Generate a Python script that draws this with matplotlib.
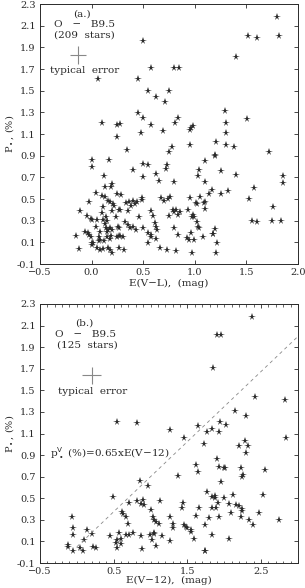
import matplotlib
matplotlib.use('Agg')
import matplotlib.pyplot as plt
import numpy as np

# panel (a): E(V-L) vs P*, 209 stars
a_x = [1.80, 1.52, 1.60, 1.82, 0.50, 1.40, 0.58, 0.80, 0.85, 0.06, 0.45, 0.55, 0.75,
       0.62, 0.71, 1.29, 0.10, 0.45, 0.50, 0.25, 0.28, 0.84, 0.81, 0.58, 0.69, 0.48,
       0.96, 0.98, 0.95, 1.30, 1.30, 1.51, 0.25, 0.78, 0.95, 1.21, 1.30, 1.38, 0.34,
       0.00, 0.00, 0.17, 0.40, 0.12, 0.20, 0.19, 0.13, 0.04, 0.25, 0.29, 0.10, 0.13,
       -0.02, 0.16, 0.18, 0.21, 0.22, 0.11, 0.33, 0.36, 0.40, 0.42, 0.38, 0.44, -0.11,
       0.27, 0.28, 0.35, 0.20, 0.10, -0.04, -0.01, 0.00, 0.05, 0.11, 0.14, 0.15, 0.24,
       0.32, 0.13, 0.14, 0.16, 0.15, 0.18, 0.20, 0.04, 0.26, 0.27, 0.35, 0.37, 0.40,
       0.43, 0.08, -0.06, -0.03, -0.15, -0.02, -0.01, 0.07, 0.08, 0.15, 0.18, 0.19,
       0.25, 0.27, 0.28, 0.30, 0.12, 0.00, 0.00, 0.01, 0.07, -0.12, 0.05, 0.08, 0.11,
       0.16, 0.18, 0.20, 0.27, 0.31,
       0.75, 1.20, 1.20, 0.50, 0.55, 1.10, 0.73, 0.72, 1.04, 0.62, 1.25, 0.50, 1.03,
       0.65, 0.80, 1.10, 1.17, 1.14, 1.25, 1.32, 0.49, 0.49, 0.67, 0.70, 0.74, 0.76,
       0.95, 1.05, 1.10, 1.09, 1.02, 1.01, 1.10, 0.46, 0.58, 0.60, 0.79, 0.82, 0.80,
       0.86, 0.93, 0.98, 0.99, 0.97, 0.75, 0.84, 0.50, 0.61, 0.62, 0.63, 0.80, 0.55,
       0.58, 0.58, 0.62, 0.55, 0.84, 0.96, 0.92, 0.94, 0.99, 1.02, 1.03, 1.04, 1.08,
       1.20, 1.18, 1.18, 1.22, 0.66, 0.73, 0.82, 0.97, 1.21,
       1.40, 1.85, 1.85, 1.57, 1.53, 1.76, 1.55, 1.60, 1.75, 1.84, 1.72]
a_y = [2.18, 2.01, 1.99, 2.01, 1.96, 1.81, 1.71, 1.71, 1.71, 1.61, 1.61, 1.50, 1.50,
       1.44, 1.40, 1.31, 1.20, 1.29, 1.25, 1.18, 1.19, 1.25, 1.20, 1.18, 1.13, 1.11,
       1.16, 1.17, 1.14, 1.20, 1.11, 1.24, 1.07, 0.98, 1.00, 1.03, 1.00, 0.98, 0.95,
       0.86, 0.80, 0.86, 0.77, 0.71, 0.64, 0.61, 0.61, 0.56, 0.55, 0.54, 0.53, 0.52,
       0.47, 0.48, 0.47, 0.45, 0.44, 0.43, 0.46, 0.47, 0.48, 0.45, 0.44, 0.47, 0.39,
       0.40, 0.40, 0.39, 0.39, 0.37, 0.34, 0.32, 0.31, 0.31, 0.31, 0.33, 0.30, 0.33,
       0.29, 0.27, 0.23, 0.21, 0.20, 0.23, 0.21, 0.24, 0.24, 0.23, 0.26, 0.23, 0.24,
       0.21, 0.20, 0.20, 0.19, 0.16, 0.17, 0.15, 0.15, 0.12, 0.15, 0.13, 0.16,
       0.15, 0.16, 0.16, 0.15, 0.11, 0.09, 0.08, 0.09, 0.11, 0.04, 0.05, 0.03, 0.04,
       0.05, 0.03, 0.00, 0.05, 0.03,
       0.93, 0.91, 0.90, 0.82, 0.81, 0.85, 0.81, 0.78, 0.77, 0.73, 0.76, 0.70, 0.71,
       0.67, 0.66, 0.66, 0.58, 0.55, 0.55, 0.57, 0.51, 0.49, 0.51, 0.48, 0.50, 0.52,
       0.51, 0.52, 0.47, 0.46, 0.45, 0.46, 0.41, 0.33, 0.39, 0.34, 0.40, 0.40, 0.38,
       0.38, 0.40, 0.35, 0.33, 0.33, 0.34, 0.35, 0.23, 0.28, 0.24, 0.21, 0.23, 0.19,
       0.17, 0.15, 0.13, 0.09, 0.17, 0.19, 0.14, 0.12, 0.12, 0.29, 0.24, 0.23, 0.15,
       0.22, 0.18, 0.18, 0.09, 0.05, 0.03, 0.02, 0.00, 0.00,
       0.72, 0.71, 0.65, 0.60, 0.50, 0.43, 0.30, 0.29, 0.30, 0.30, 0.93]

# panel (b): E(V-12) vs P*, 125 stars
b_x = [2.38, 1.90, 1.96, 1.85, 2.42, 2.82, 2.15, 2.29, 0.54, 0.81, 1.26, 1.65, 1.94,
       1.84, 1.77, 1.93, 2.02, 1.45, 2.84, 1.72, 2.20, 2.28, 2.32, 2.30, 1.90, 1.62,
       1.37, 1.65, 1.93, 2.00, 2.01, 2.23, 2.25, 2.24, 2.55, 1.95, 0.97, 0.86, 1.77,
       1.84, 1.87, 1.88, 1.99, 2.12, 2.52, 0.49, 0.82, 0.90, 0.91, 0.87, 1.13, 0.61,
       0.62, 0.67, 0.71, 1.01, 1.43, 1.44, 1.66, 1.83, 1.89, 1.91, 2.07, 2.16, 2.20,
       2.24, 2.24, 1.93, 1.79, 1.62, 2.09, 2.23, 2.47, 2.74, 2.34, 0.70, 1.03, 1.05,
       1.08, 1.12, 1.26, 1.31, 1.31, 1.45, 1.48, 1.50, 1.55, 1.55, 1.59, 1.74, 1.83,
       2.07, 2.39, 1.74, 1.74, 0.99, 1.05, 1.05, 1.16, 1.02, 1.08, 1.26, 0.87, 0.89,
       0.57, 0.60, 0.60, 0.67, 0.71, 0.76, 0.45, 0.54, 0.53, 0.55, -0.07, -0.05, -0.05,
       -0.12, -0.12, -0.05, 0.04, 0.09, 0.10, 0.14, 0.20, 0.22, 0.26]
b_y = [2.18, 2.01, 2.01, 1.71, 1.44, 1.41, 1.31, 1.26, 1.21, 1.20, 1.13, 1.17, 1.21,
       1.14, 1.11, 1.11, 1.18, 1.06, 1.06, 1.00, 0.98, 1.03, 0.98, 0.92, 0.86, 0.81,
       0.71, 0.74, 0.79, 0.78, 0.78, 0.78, 0.72, 0.70, 0.76, 0.65, 0.61, 0.66, 0.56,
       0.51, 0.52, 0.50, 0.50, 0.53, 0.53, 0.51, 0.47, 0.48, 0.44, 0.45, 0.47, 0.37,
       0.35, 0.33, 0.46, 0.39, 0.41, 0.46, 0.41, 0.41, 0.41, 0.46, 0.45, 0.44, 0.43,
       0.40, 0.38, 0.33, 0.32, 0.34, 0.36, 0.33, 0.36, 0.30, 0.30, 0.26, 0.33, 0.30,
       0.28, 0.26, 0.33, 0.26, 0.22, 0.25, 0.23, 0.22, 0.21, 0.19, 0.12, 0.25, 0.16,
       0.12, 0.25, 0.01, 0.01, 0.16, 0.18, 0.17, 0.15, 0.11, 0.06, 0.10, 0.15, 0.03,
       0.18, 0.12, 0.08, 0.16, 0.16, 0.18, 0.15, 0.11, 0.09, 0.04, 0.33, 0.22, 0.16,
       0.07, 0.05, 0.01, 0.04, 0.01, 0.11, 0.21, 0.17, 0.05, 0.04]

slope = 0.65
offset = 0.05
y_ticks = [-0.1, 0.1, 0.3, 0.5, 0.7, 0.9, 1.1, 1.3, 1.5, 1.7, 1.9, 2.1, 2.3]

plt.rcParams['font.family'] = ['DejaVu Serif']
plt.rcParams['font.size'] = 7
ink = '#2a2a2a'
fs = 7.5

fig = plt.figure(figsize=(3.05, 5.88), dpi=100)
ax1 = fig.add_axes([0.131, 0.551, 0.846, 0.442])
ax2 = fig.add_axes([0.131, 0.0425, 0.846, 0.4405])

for ax in (ax1, ax2):
    ax.set_ylim(-0.1, 2.3)
    ax.set_yticks(y_ticks)
    ax.set_yticklabels(['%.1f' % t for t in y_ticks])
    ax.tick_params(direction='in', top=True, right=True, length=3, width=0.6,
                   colors=ink, labelsize=7, pad=3)
    ax.tick_params(which='minor', direction='in', top=True, right=True,
                   length=1.8, width=0.5, colors=ink)
    for s in ax.spines.values():
        s.set_linewidth(0.7)
        s.set_color(ink)
    ax.set_ylabel(r'P$_\bullet$, (%)', color=ink, labelpad=1, fontsize=7)

# (a)
ax1.plot(a_x, a_y, '*', color=ink, ms=5.5, mew=0)
ax1.set_xlim(-0.5, 2.0)
ax1.set_xticks([-0.5, 0.0, 0.5, 1.0, 1.5, 2.0])
ax1.set_xlabel('E(V−L),  (mag)', color=ink, labelpad=1, fontsize=fs)
ax1.errorbar([-0.13], [1.83], xerr=0.08, yerr=0.08, color='#888888', lw=0.8, capsize=0)
ax1.text(-0.09, 2.21, '(a.)', ha='center', va='center', color=ink, fontsize=fs)
ax1.text(-0.07, 2.11, 'O   −   B9.5', ha='center', va='center', color=ink, fontsize=fs)
ax1.text(-0.07, 2.01, '(209  stars)', ha='center', va='center', color=ink, fontsize=fs)
ax1.text(-0.07, 1.69, 'typical  error', ha='center', va='center', color=ink, fontsize=fs)

# (b)
ax2.plot(b_x, b_y, '*', color=ink, ms=5.5, mew=0)
xl = np.array([0.0, 3.0])
ax2.plot(xl, slope * xl + offset, color='#888888', lw=0.6, dashes=(4, 4))
ax2.set_xlim(-0.5, 3.0)
ax2.set_xticks([-0.5, 0.5, 1.5, 2.5])
ax2.set_xticks(np.arange(-0.5, 3.01, 0.1), minor=True)
ax2.set_xlabel('E(V−12),  (mag)', color=ink, labelpad=0, fontsize=fs)
ax2.errorbar([0.20], [1.64], xerr=0.13, yerr=0.08, color='#888888', lw=0.8, capsize=0)
ax2.text(0.10, 2.12, '(b.)', ha='center', va='center', color=ink, fontsize=fs)
ax2.text(0.12, 2.02, 'O   −   B9.5', ha='center', va='center', color=ink, fontsize=fs)
ax2.text(0.15, 1.92, '(125  stars)', ha='center', va='center', color=ink, fontsize=fs)
ax2.text(0.22, 1.49, 'typical  error', ha='center', va='center', color=ink, fontsize=fs)
ax2.text(-0.37, 0.92, r'p$_\bullet^{\rm V}$ (%)=0.65xE(V−12)', ha='left', va='center',
         color=ink, fontsize=fs)

fig.savefig('out.png', dpi=100)
